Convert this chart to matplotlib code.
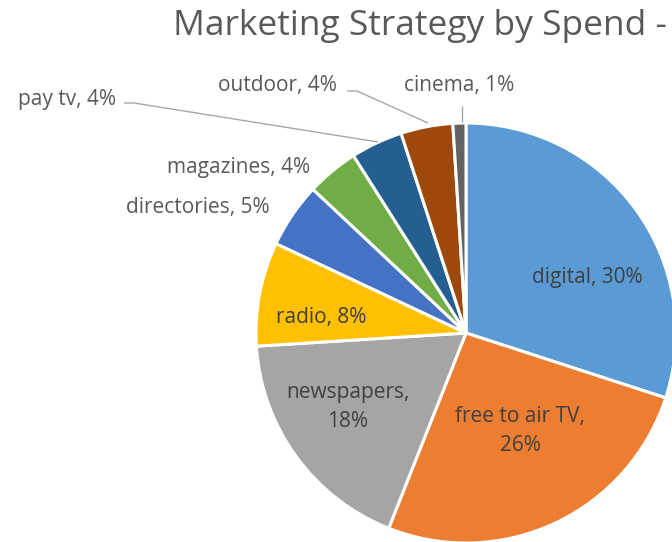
import matplotlib
matplotlib.use("Agg")
import matplotlib.pyplot as plt

# Spend share by channel (percent), clockwise from 12 o'clock
categories = ["digital", "free to air TV", "newspapers", "radio", "directories",
              "magazines", "pay tv", "outdoor", "cinema"]
shares = [30, 26, 18, 8, 5, 4, 4, 4, 1]
title_text = "Marketing Strategy by Spend -"

colors = ["#5B9BD5", "#ED7D31", "#A5A5A5", "#FFC000", "#4472C4",
          "#70AD47", "#255E91", "#9E480E", "#636363"]

W, H = 672, 542
fig = plt.figure(figsize=(W / 100, H / 100), dpi=100)
ax = fig.add_axes([0, 0, 1, 1])

FONT = ["Open Sans", "DejaVu Sans"]

def py(y):
    # pixel row (top-down) -> axis y (bottom-up)
    return H - y

cx, cy, R = 466, 333, 210
ax.pie(shares, colors=colors, startangle=90, counterclock=False,
       center=(cx, py(cy)), radius=R, frame=True,
       wedgeprops=dict(edgecolor="white", linewidth=2.2))
ax.set_xlim(0, W)
ax.set_ylim(0, H)
ax.set_aspect("equal")
ax.axis("off")

# label layout: (x, y, text colour)
layout = {
    "digital":        (587, 278, "#404040"),
    "free to air TV": (520, 431, "#404040"),
    "newspapers":     (348, 407, "#404040"),
    "radio":          (321, 318, "#404040"),
    "directories":    (198, 207, "#595959"),
    "magazines":      (239, 167, "#595959"),
    "pay tv":         (67, 100, "#595959"),
    "outdoor":        (277, 86, "#595959"),
    "cinema":         (459, 86, "#595959"),
}
wrapped = {"free to air TV", "newspapers"}

for cat, val in zip(categories, shares):
    x, y, col = layout[cat]
    sep = ",\n" if cat in wrapped else ", "
    ax.text(x, py(y), f"{cat}{sep}{val}%", ha="center", va="center", color=col,
            fontsize=15, family=FONT, linespacing=1.45)

# leader lines for the small outside labels
leaders = {
    "pay tv":  [(124, 103), (134, 103), (378, 142)],
    "outdoor": [(347, 91), (357, 91), (428, 123)],
    "cinema":  [(462, 106), (462, 122)],
}
for pts in leaders.values():
    ax.plot([p[0] for p in pts], [py(p[1]) for p in pts],
            color="#A6A6A6", linewidth=1.0, solid_capstyle="butt")

fig.text(173 / W, 1 - 26 / H, title_text, ha="left", va="center",
         fontsize=25.5, color="#595959", family=FONT)

fig.savefig("out.png", dpi=100, facecolor="white")
